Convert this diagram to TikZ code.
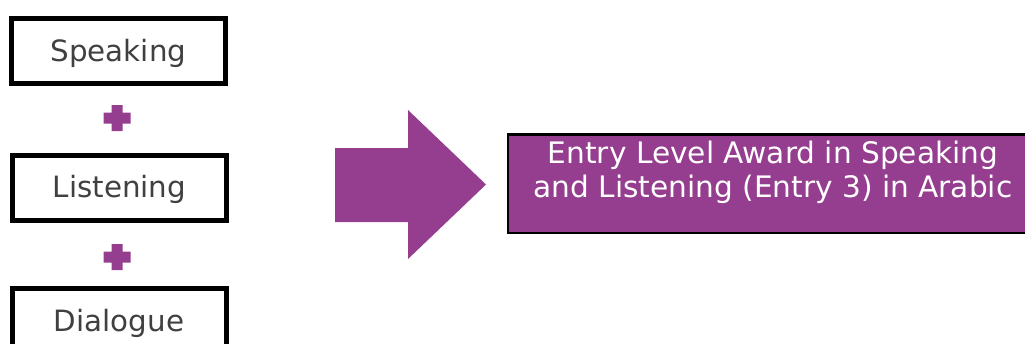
\documentclass[tikz,border=0pt]{standalone}
\usepackage{fontspec}
\setmainfont{DejaVu Sans}
\usetikzlibrary{positioning}
\definecolor{awardpurple}{RGB}{149,61,142}
\definecolor{skillgrey}{RGB}{64,64,64}

\begin{document}
\begin{tikzpicture}[x=0.75pt, y=-0.75pt,
  skill/.style={draw=black, line width=3.75pt, fill=white, text=skillgrey,
    minimum width=160.5pt, minimum height=48.75pt, inner sep=0pt,
    text height=16.5pt, text depth=1pt, font=\fontsize{22}{25.6}\selectfont},
  awardbox/.style={draw=black, line width=1.9pt, fill=awardpurple,
    minimum width=397.5pt, minimum height=73.9pt, inner sep=0pt},
  awardtext/.style={text=white, align=center, inner sep=0pt,
    font=\fontsize{22.2}{25.6}\selectfont}]
  \useasboundingbox (0,0) rectangle (1025,343);
  \clip (0,0) rectangle (1025,343);
  \node[skill] (speaking) at (118.5,51) {Speaking};
  \node[skill] (listening) at (119.5,187.5) {Listening};
  \node[skill] (dialogue) at (119,321) {Dialogue};
  % plus signs between the boxes
  \foreach \py in {118,257}
    \fill[awardpurple, shift={(117,\py)}] (-5.5,-13) -- (5.5,-13) -- (5.5,-5.5) -- (13.5,-5.5)
      -- (13.5,5.5) -- (5.5,5.5) -- (5.5,13) -- (-5.5,13) -- (-5.5,5.5) -- (-13.5,5.5)
      -- (-13.5,-5.5) -- (-5.5,-5.5) -- cycle;
  \fill[awardpurple] (335,148) -- (408,148) -- (408,110) -- (486,184.5) -- (408,259)
    -- (408,222) -- (335,222) -- cycle;
  \node[awardbox] (award) at (773,183.75) {};
  \node[awardtext] (awardlabel) at (773,172) {Entry Level Award in Speaking\\and Listening (Entry 3) in Arabic};
\end{tikzpicture}
\end{document}
